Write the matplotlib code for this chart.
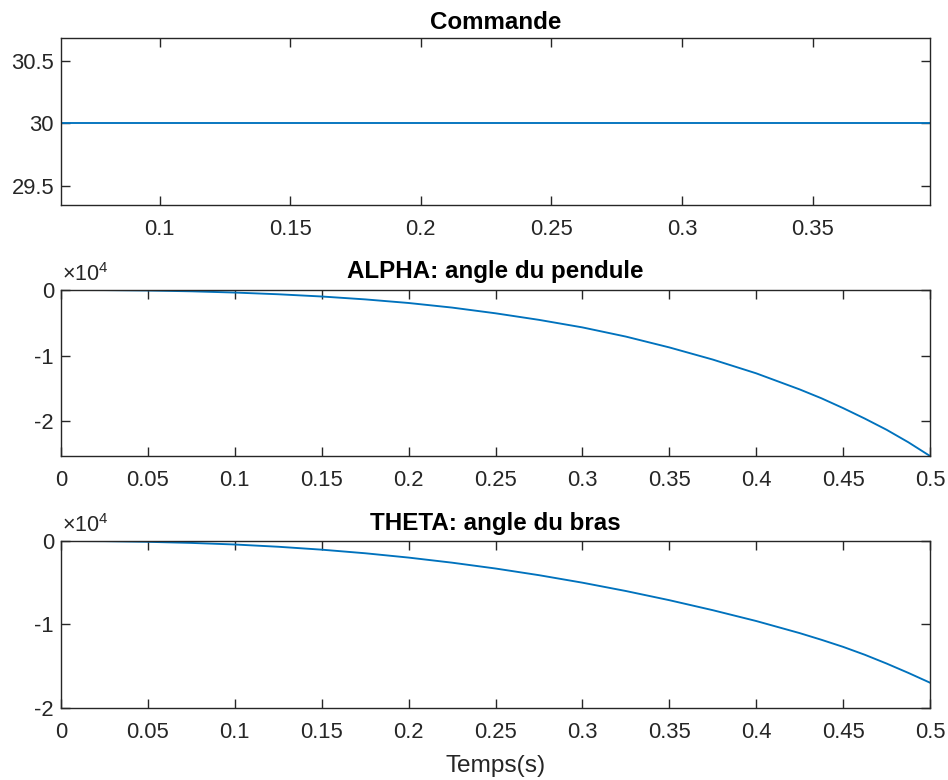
import matplotlib
matplotlib.use("Agg")
import matplotlib.pyplot as plt
from matplotlib.ticker import FuncFormatter, FixedLocator

AXC = '#262626'
plt.rcParams['font.family'] = ['Liberation Sans', 'DejaVu Sans']
plt.rcParams['axes.unicode_minus'] = False
plt.rcParams['mathtext.fontset'] = 'custom'
plt.rcParams['mathtext.rm'] = 'Liberation Sans'
plt.rcParams['mathtext.default'] = 'regular'
plt.rcParams['xtick.direction'] = 'in'
plt.rcParams['ytick.direction'] = 'in'
plt.rcParams['xtick.top'] = True
plt.rcParams['ytick.right'] = True
plt.rcParams['xtick.major.size'] = 6.2
plt.rcParams['ytick.major.size'] = 6.2
plt.rcParams['xtick.major.width'] = 1.0
plt.rcParams['ytick.major.width'] = 1.0
plt.rcParams['xtick.color'] = AXC
plt.rcParams['ytick.color'] = AXC
plt.rcParams['xtick.minor.visible'] = False
plt.rcParams['ytick.minor.visible'] = False

# ---- data ----
t = [0.0, 0.025, 0.05, 0.075, 0.1, 0.125, 0.15, 0.175, 0.2, 0.225, 0.25,
     0.275, 0.3, 0.325, 0.35, 0.375, 0.4, 0.425, 0.4375, 0.45, 0.4625,
     0.475, 0.4875, 0.5]
commande = [30.0] * len(t)
alpha = [0, -15, -80, -200, -390, -650, -990, -1430, -1980, -2680, -3550,
         -4550, -5700, -7100, -8750, -10600, -12700, -15150, -16500, -18000,
         -19600, -21300, -23200, -25300]
theta = [0, -20, -100, -230, -420, -690, -1040, -1470, -1990, -2600, -3300,
         -4100, -5000, -6000, -7100, -8300, -9600, -11050, -11850, -12700,
         -13650, -14700, -15820, -17000]

titles = ['Commande', 'ALPHA: angle du pendule', 'THETA: angle du bras']
xlabel = 'Temps(s)'

top_xticks = [0.1, 0.15, 0.2, 0.25, 0.3, 0.35]
top_yticks = [29.5, 30, 30.5]
full_xticks = [0, 0.05, 0.1, 0.15, 0.2, 0.25, 0.3, 0.35, 0.4, 0.45, 0.5]
alpha_yticks = [-20000, -10000, 0]
theta_yticks = [-20000, -10000, 0]

LINE = '#0072BD'
TICK_FS = 15.8
TITLE_FS = 17.4

fig = plt.figure(figsize=(9.48, 7.80), dpi=100)
fig.patch.set_facecolor('white')

positions = [
    [61/948, 1 - 205/780, (930 - 61)/948, (205 - 38.3)/780],
    [61/948, 1 - 456/780, (930 - 61)/948, (456 - 290)/780],
    [61/948, 1 - 707.7/780, (930 - 61)/948, (707.7 - 541)/780],
]
axes = [fig.add_axes(p) for p in positions]

fmt = FuncFormatter(lambda v, p: ('%g' % v))
fmt4 = FuncFormatter(lambda v, p: ('%g' % (v / 1e4)))

for ax in axes:
    for s in ax.spines.values():
        s.set_color(AXC)
        s.set_linewidth(1.0)
        s.set_zorder(3)

ax1, ax2, ax3 = axes
ax1.plot(t, commande, color=LINE, lw=1.35)
ax1.set_xlim(0.0623, 0.3949)
ax1.set_ylim(29.348, 30.681)
ax1.xaxis.set_major_locator(FixedLocator(top_xticks))
ax1.yaxis.set_major_locator(FixedLocator(top_yticks))
ax1.xaxis.set_major_formatter(fmt)
ax1.yaxis.set_major_formatter(fmt)
ax1.set_title(titles[0], fontsize=TITLE_FS, fontweight='bold', color='black', pad=6.5)

ax2.plot(t, alpha, color=LINE, lw=1.35)
ax2.set_xlim(0, 0.5)
ax2.set_ylim(min(alpha), max(alpha))
ax2.xaxis.set_major_locator(FixedLocator(full_xticks))
ax2.yaxis.set_major_locator(FixedLocator(alpha_yticks))
ax2.xaxis.set_major_formatter(fmt)
ax2.yaxis.set_major_formatter(fmt4)
ax2.set_title(titles[1], fontsize=TITLE_FS, fontweight='bold', color='black', pad=8.4)

ax3.plot(t, theta, color=LINE, lw=1.35)
ax3.set_xlim(0, 0.5)
ax3.set_ylim(-20000, 0)
ax3.xaxis.set_major_locator(FixedLocator(full_xticks))
ax3.yaxis.set_major_locator(FixedLocator(theta_yticks))
ax3.xaxis.set_major_formatter(fmt)
ax3.yaxis.set_major_formatter(fmt4)
ax3.set_title(titles[2], fontsize=TITLE_FS, fontweight='bold', color='black', pad=8.0)
ax3.set_xlabel(xlabel, fontsize=17.6, color=AXC, labelpad=9)

for ax in axes:
    ax.tick_params(which='major', direction='in', length=6.2, width=1.0, color=AXC,
                   labelcolor=AXC, labelsize=TICK_FS, top=True, right=True,
                   bottom=True, left=True)
    ax.tick_params(axis='x', pad=10)
    ax.tick_params(axis='y', pad=5)

for ax in (ax2, ax3):
    ax.text(0.001, 1.025, '×10$^{4}$', transform=ax.transAxes, ha='left', va='bottom',
            fontsize=15.5, color=AXC)

fig.savefig('out.png', dpi=100, facecolor='white')
